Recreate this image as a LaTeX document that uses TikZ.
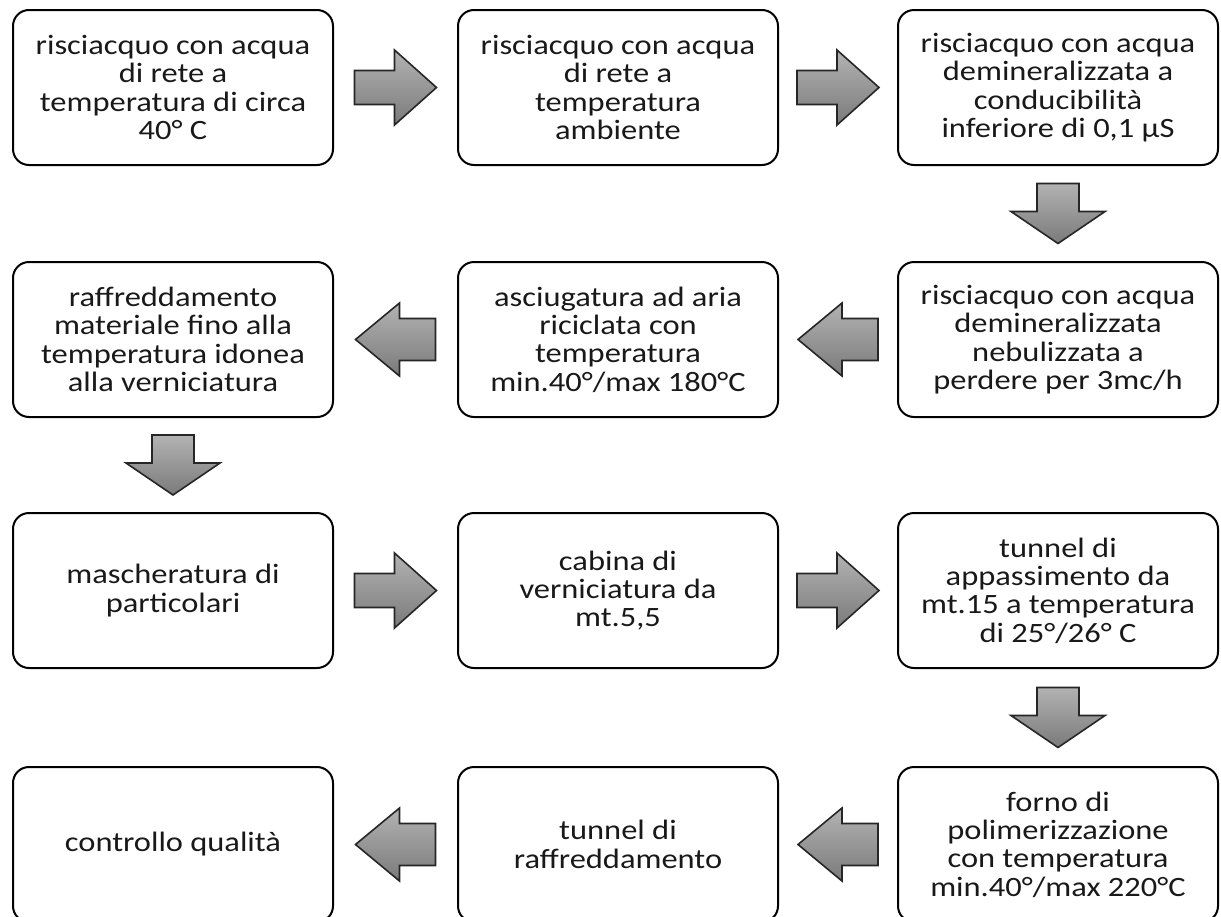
\documentclass[tikz,border=0pt]{standalone}
\usepackage{fontspec}
\newfontfamily\boxfont[FakeStretch=1.16]{Carlito}
\usetikzlibrary{calc}
\tikzset{
  stepbox/.style={draw=black, line width=2pt, rounded corners=16pt, fill=white,
    minimum width=320pt, minimum height=155pt, inner sep=0pt, align=center,
    text=black!90, font={\boxfont\fontsize{28}{28.4}\selectfont}},
  arrowfill/.style={draw=black!85, line width=1.6pt, line join=miter,
    top color=black!30, bottom color=black!52},
  harrow/.pic={\path[arrowfill] (-41,-17) -- (-1,-17) -- (-1,-37.5) -- (41,0) -- (-1,37.5) -- (-1,17) -- (-41,17) -- cycle;},
  larrow/.pic={\path[arrowfill] (-40,-21) -- (-4,-21) -- (-4,-36.5) -- (40,0) -- (-4,36.5) -- (-4,21) -- (-40,21) -- cycle;},
  varrow/.pic={\path[arrowfill] (-30,-21) -- (-2,-21) -- (-2,-47) -- (30,0) -- (-2,47) -- (-2,21) -- (-30,21) -- cycle;}
}
\begin{document}
\begin{tikzpicture}[x=1pt,y=1pt]
\useasboundingbox (0,0) rectangle (1221,-916);
\clip (0,0) rectangle (1221,-916);
\fill[white] (0,0) rectangle (1221,-916);
% row 1
\node[stepbox] (b1) at (173,-87.5) {risciacquo con acqua\\di rete a\\temperatura di circa\\40° C};
\node[stepbox] (b2) at (618,-87.5) {risciacquo con acqua\\di rete a\\temperatura\\ambiente};
\node[stepbox] (b3) at (1058,-87.5) {risciacquo con acqua\\demineralizzata a\\conducibilità\\inferiore di 0,1 µS};
% row 2
\node[stepbox] (b4) at (1058,-339.5) {risciacquo con acqua\\demineralizzata\\nebulizzata a\\perdere per 3mc/h};
\node[stepbox] (b5) at (618,-339.5) {asciugatura ad aria\\riciclata con\\temperatura\\min.40°/max 180°C};
\node[stepbox] (b6) at (173,-339.5) {raffreddamento\\materiale fino alla\\temperatura idonea\\alla verniciatura};
% row 3
\node[stepbox] (b7) at (173,-590.5) {mascheratura di\\particolari};
\node[stepbox] (b8) at (618,-590.5) {cabina di\\verniciatura da\\mt.5,5};
\node[stepbox] (b9) at (1058,-590.5) {tunnel di\\appassimento da\\mt.15 a temperatura\\di 25°/26° C};
% row 4
\node[stepbox] (b10) at (1058,-844.5) {forno di\\polimerizzazione\\con temperatura\\min.40°/max 220°C};
\node[stepbox] (b11) at (618,-844.5) {tunnel di\\raffreddamento};
\node[stepbox] (b12) at (173,-844.5) {controllo qualità};
% connectors
\pic at ($(b1.east)!0.5!(b2.west)$) {harrow};
\pic at ($(b2.east)!0.5!(b3.west)$) {harrow};
\pic[rotate=270] at ($(b3.south)!0.5!(b4.north)$) {varrow};
\pic[rotate=180] at ($(b4.west)!0.5!(b5.east)$) {larrow};
\pic[rotate=180] at ($(b5.west)!0.5!(b6.east)$) {larrow};
\pic[rotate=270] at ($(b6.south)!0.5!(b7.north)$) {varrow};
\pic at ($(b7.east)!0.5!(b8.west)$) {harrow};
\pic at ($(b8.east)!0.5!(b9.west)$) {harrow};
\pic[rotate=270] at ($(b9.south)!0.5!(b10.north)$) {varrow};
\pic[rotate=180] at ($(b10.west)!0.5!(b11.east)$) {larrow};
\pic[rotate=180] at ($(b11.west)!0.5!(b12.east)$) {larrow};
\end{tikzpicture}
\end{document}
